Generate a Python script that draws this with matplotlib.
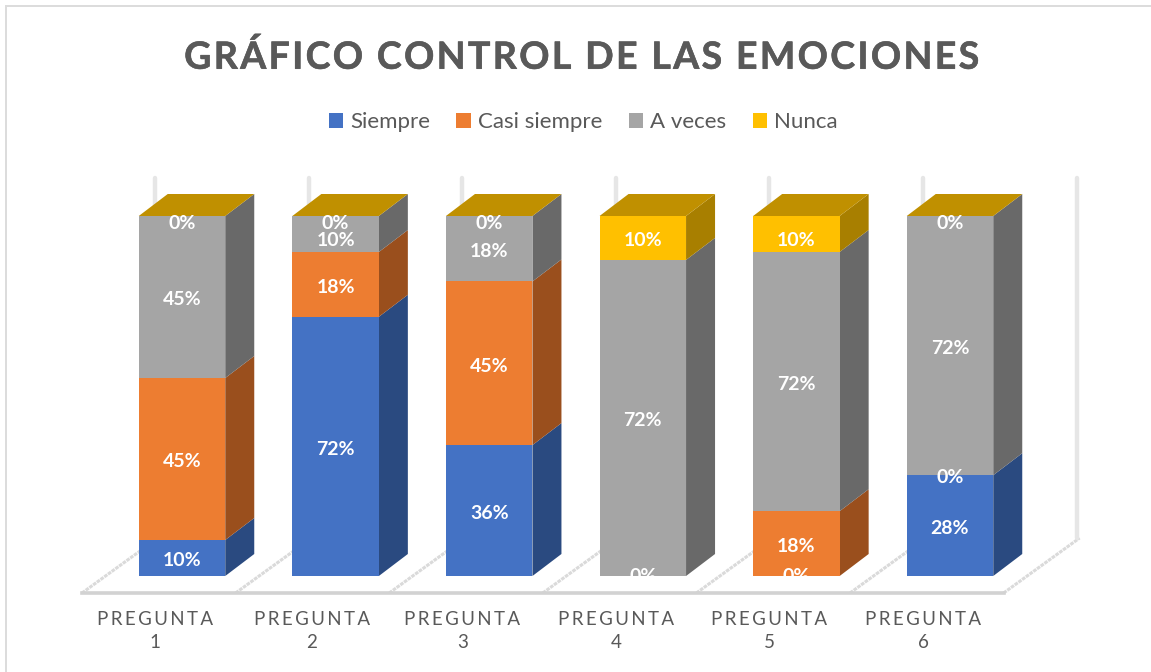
import numpy as np
import matplotlib
matplotlib.use("Agg")
import matplotlib.pyplot as plt
import matplotlib.patheffects as pe
from matplotlib.patches import Polygon

categories = ["PREGUNTA\n1", "PREGUNTA\n2", "PREGUNTA\n3", "PREGUNTA\n4", "PREGUNTA\n5", "PREGUNTA\n6"]
siempre = [10, 72, 36, 0, 0, 28]
casi_siempre = [45, 18, 45, 0, 18, 0]
a_veces = [45, 10, 18, 72, 72, 72]
nunca = [0, 0, 0, 10, 10, 0]

series_names = ["Siempre", "Casi siempre", "A veces", "Nunca"]
front_colors = ["#4472C4", "#ED7D31", "#A5A5A5", "#FFC000"]
side_colors = ["#2A4A80", "#9A4F1D", "#696969", "#A87F00"]
top_color = "#C09000"
text_color = "#595959"
wall_color = "#E6E6E6"
floor_color = "#D2D2D2"

plt.rcParams["font.family"] = ["Lato", "DejaVu Sans"]


def spaced(text, sep):
    # letter spacing as in the original, each line on its own
    return "\n".join(sep.join(line) for line in text.split("\n"))


W, H = 1151, 672
fig = plt.figure(figsize=(W / 100, H / 100), dpi=100)
ax = fig.add_axes([0, 0, 1, 1])

# one x unit = distance between bars, one y unit = 1 % of the stack
px_x = 153.6
px_y = 3.6
x0_px, y0_px = 182, 576
ax.set_xlim(-x0_px / px_x, (W - x0_px) / px_x)
ax.set_ylim(-(H - y0_px) / px_y, y0_px / px_y)
ax.axis("off")

dx = 29 / px_x
dy = 22 / px_y
width = 86.5 / px_x

x = np.arange(len(categories))
data = np.array([siempre, casi_siempre, a_veces, nunca], dtype=float)
shares = data / data.sum(axis=0) * 100

# back wall and floor
floor_front = -17 / px_y
floor_dx = 76 / px_x
floor_dy = 55 / px_y
wall_top = 110.5
left = -100 / px_x
for k in range(7):
    xs = left + k
    ax.plot([xs, xs + floor_dx], [floor_front, floor_front + floor_dy],
            color="#DADADA", lw=2.2, ls=(0, (1.2, 0.3)), zorder=1)
    ax.plot([xs + floor_dx - 3 / px_x] * 2, [floor_front + floor_dy, wall_top],
            color=wall_color, lw=3.2, zorder=1, solid_capstyle="round")
ax.plot([left, left + 6], [floor_front, floor_front], color=floor_color, lw=2.6, zorder=1)

bottom = np.zeros(len(categories))
handles = []
for s, name in enumerate(series_names):
    vals = shares[s]
    bars = ax.bar(x, vals, width, bottom=bottom, color=front_colors[s], zorder=3, label=name)
    handles.append(bars)
    for xi, b, v in zip(x, bottom, vals):
        if v == 0:
            continue
        r = xi + width / 2
        ax.add_patch(Polygon([(r, b), (r + dx, b + dy), (r + dx, b + v + dy), (r, b + v)],
                             closed=True, fc=side_colors[s], ec="none", zorder=2.5))
    bottom = bottom + vals

# caps
for xi, t in zip(x, bottom):
    l, r = xi - width / 2, xi + width / 2
    ax.add_patch(Polygon([(l, t), (r, t), (r + dx, t + dy), (l + dx, t + dy)],
                         closed=True, fc=top_color, ec="none", zorder=2.5))

# data labels
bottom = np.zeros(len(categories))
for s in range(len(series_names)):
    for i, xi in enumerate(x):
        v = shares[s][i]
        if data[s][i] == 0:
            if s == 1 and bottom[i] == 0:
                continue  # same spot as the Siempre label
            if bottom[i] == 0:
                ypos = 0
            elif bottom[i] >= 99.9:
                ypos = bottom[i] - 2.1
            else:
                ypos = bottom[i] - 0.7
        else:
            ypos = min(bottom[i] + v / 2 - 0.8, 93.3)
        ax.text(xi, ypos, f"{data[s][i]:.0f}%", color="white", fontsize=14, fontweight="bold",
                ha="center", va="center", zorder=5)
    bottom = bottom + shares[s]

# category labels
label_x = x - 27 / px_x
label_x[1] += 3 / px_x
for xi, cat in zip(label_x, categories):
    ax.text(xi, -(611 - y0_px) / px_y, spaced(cat, "\u2009"), color=text_color, fontsize=13.5,
            ha="center", va="top", linespacing=1.4, zorder=5)

fig.text(582 / W, 1 - 57 / H, spaced("GRÁFICO CONTROL DE LAS EMOCIONES", "\u200a"),
         color=text_color, fontsize=27, fontweight="bold", ha="center", va="center",
         path_effects=[pe.withStroke(linewidth=0.4, foreground=text_color)])

leg = ax.legend(handles=handles, labels=series_names, loc="center", ncol=4,
                bbox_to_anchor=(583 / W, 1 - 122 / H), frameon=False, fontsize=16,
                labelcolor=text_color, handlelength=0.65, handleheight=0.65,
                handletextpad=0.3, columnspacing=1.2)

# chart frame, only top and left show in the crop
fig.add_artist(plt.Line2D([5.5 / W, 1], [1 - 6 / H] * 2, color="#DCDCDC", lw=1.4))
fig.add_artist(plt.Line2D([6 / W] * 2, [0, 1 - 5.5 / H], color="#DCDCDC", lw=1.4))

fig.savefig("out.png", dpi=100)
